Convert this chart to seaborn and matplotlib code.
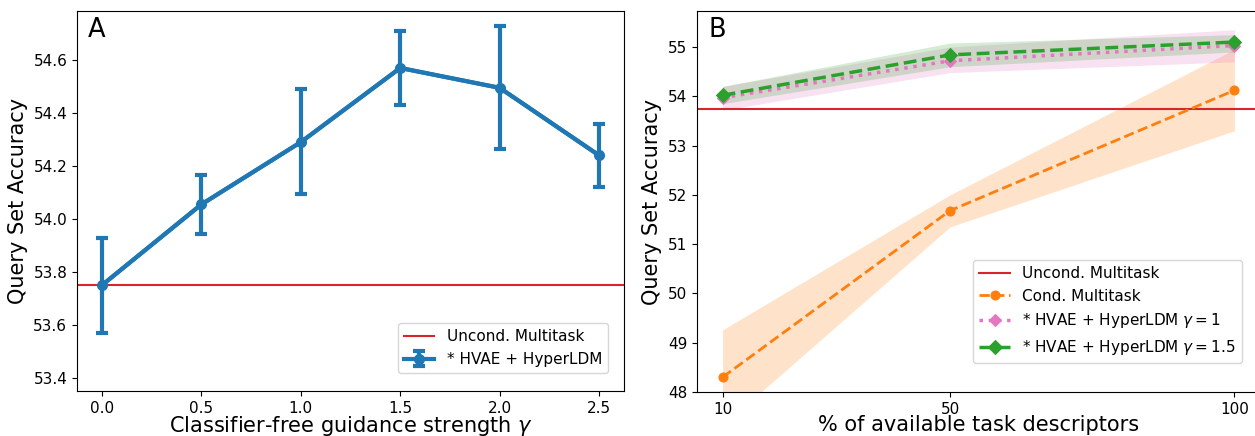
import numpy as np
import pandas as pd
import matplotlib
matplotlib.use('Agg')
import matplotlib.pyplot as plt
import seaborn as sns

# panel A: guidance strength sweep
gamma = [0.0, 0.5, 1.0, 1.5, 2.0, 2.5]
acc_a = [53.75, 54.055, 54.29, 54.57, 54.495, 54.24]
acc_a_lo = [53.57, 53.945, 54.095, 54.43, 54.265, 54.12]
acc_a_hi = [53.93, 54.165, 54.49, 54.71, 54.73, 54.36]
uncond_acc = 53.75

# panel B: fraction of task descriptors
pct = [10, 50, 100]
cond_acc = [48.3, 51.68, 54.12]
cond_lo = [47.32, 51.35, 53.3]
cond_hi = [49.26, 52.0, 54.95]
hv1_acc = [53.97, 54.72, 55.03]
hv1_lo = [53.72, 54.48, 54.7]
hv1_hi = [54.2, 55.0, 55.35]
hv15_acc = [54.02, 54.84, 55.1]
hv15_lo = [53.85, 54.6, 54.9]
hv15_hi = [54.2, 55.08, 55.25]

fig = plt.figure(figsize=(12.55, 4.36), dpi=100)
ax1 = fig.add_axes([77 / 1255, 45 / 436, 547 / 1255, 380 / 436])
ax2 = fig.add_axes([697 / 1255, 44 / 436, 563 / 1255, 381 / 436])

# --- A ---
ax1.axhline(uncond_acc, color='tab:red', lw=1.5, label='Uncond. Multitask')
yerr = [np.array(acc_a) - np.array(acc_a_lo), np.array(acc_a_hi) - np.array(acc_a)]
sns.lineplot(x=gamma, y=acc_a, ax=ax1, color='tab:blue', lw=3, legend=False)
ax1.errorbar(gamma, acc_a, yerr=yerr, fmt='o-', color='tab:blue', lw=3, ms=7,
             capsize=4, capthick=3, label='* HVAE + HyperLDM')
ax1.set_xlim(-0.125, 2.625)
ax1.set_ylim(53.351, 54.785)
ax1.set_xticks(gamma)
ax1.set_yticks([53.4, 53.6, 53.8, 54.0, 54.2, 54.4, 54.6])
ax1.set_xlabel(r'Classifier-free guidance strength $\gamma$', fontsize=15, labelpad=-1.5)
ax1.set_ylabel('Query Set Accuracy', fontsize=15)
ax1.tick_params(labelsize=11)
ax1.legend(loc='lower right', bbox_to_anchor=(0.971, 0.047), borderaxespad=0, fontsize=11)
ax1.text(0.02, 0.985, 'A', transform=ax1.transAxes, fontsize=18.5, va='top', ha='left')

# --- B ---
ax2.axhline(uncond_acc, color='tab:red', lw=1.5, label='Uncond. Multitask')
ax2.fill_between(pct, cond_lo, cond_hi, color='tab:orange', alpha=0.22, lw=0)
ax2.fill_between(pct, hv1_lo, hv1_hi, color='tab:pink', alpha=0.22, lw=0)
ax2.fill_between(pct, hv15_lo, hv15_hi, color='tab:green', alpha=0.2, lw=0)
sns.lineplot(x=pct, y=cond_acc, ax=ax2, color='tab:orange', linestyle='--', lw=2,
             marker='o', ms=6.5, mec='tab:orange', label='Cond. Multitask')
sns.lineplot(x=pct, y=hv1_acc, ax=ax2, color='tab:pink', linestyle=':', lw=2.5,
             marker='D', ms=6.5, mec='tab:pink', label=r'* HVAE + HyperLDM $\gamma = 1$')
sns.lineplot(x=pct, y=hv15_acc, ax=ax2, color='tab:green', linestyle='--', lw=2.5,
             marker='D', ms=7, mec='tab:green', label=r'* HVAE + HyperLDM $\gamma = 1.5$')
ax2.set_xlim(5.5, 104.5)
ax2.set_ylim(48, 55.73)
ax2.set_xticks(pct)
ax2.set_xticklabels([str(p) for p in pct])
ax2.set_xlabel('% of available task descriptors', fontsize=15, labelpad=-1.5)
ax2.set_ylabel('Query Set Accuracy', fontsize=15)
ax2.tick_params(labelsize=11)
ax2.legend(loc='lower right', bbox_to_anchor=(0.968, 0.076), borderaxespad=0, fontsize=11)
ax2.text(0.02, 0.985, 'B', transform=ax2.transAxes, fontsize=18.5, va='top', ha='left')

fig.savefig('out.png', dpi=100)
